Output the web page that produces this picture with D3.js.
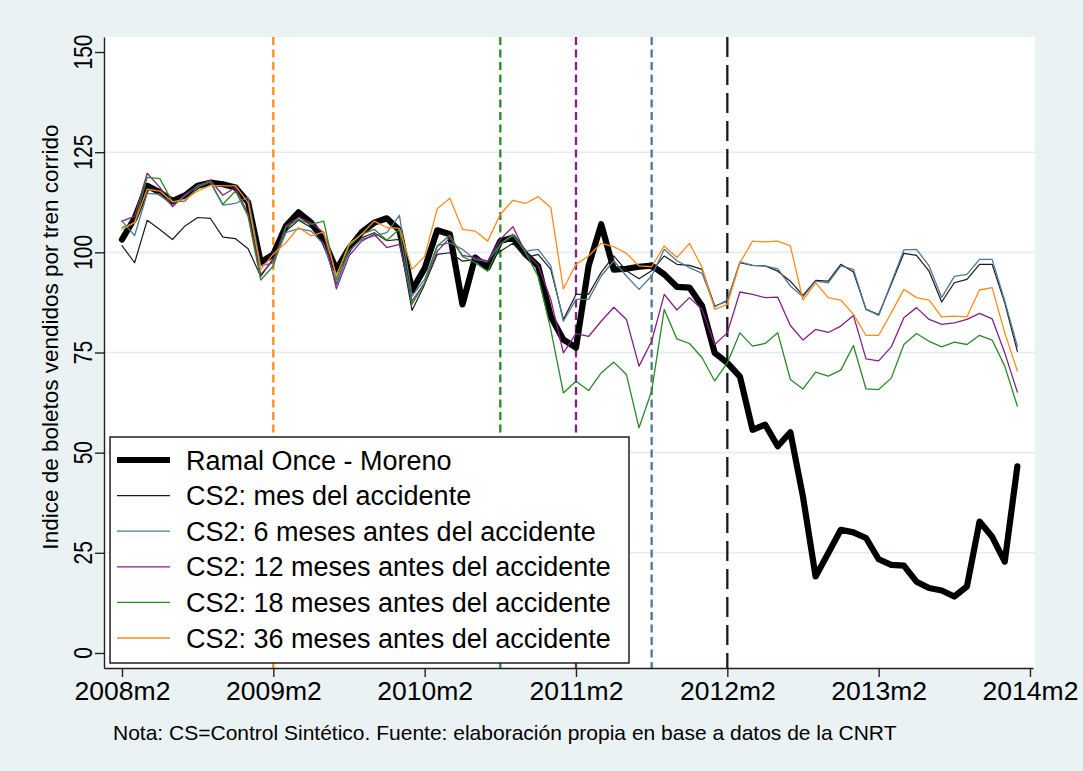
<!DOCTYPE html>
<html><head><meta charset="utf-8">
<script src="https://cdn.jsdelivr.net/npm/d3@7"></script>
<style>
body{margin:0;background:#EAF2F3;}
svg{display:block;font-family:"Liberation Sans",Arial,sans-serif;}
</style>
</head><body>
<svg id="chart" width="1083" height="771"></svg>
<script>
// ---- data ----
const monthIndex = [0,1,2,3,4,5,6,7,8,9,10,11,12,13,14,15,16,17,18,19,20,21,22,23,24,25,26,27,28,29,30,31,32,33,34,35,36,37,38,39,40,41,42,43,44,45,46,47,48,49,50,51,52,53,54,55,56,57,58,59,60,61,62,63,64,65,66,67,68,69,70,71]; // 2008m2 .. 2014m1
const xTickMonths = [0,12,24,36,48,60,72];
const xTickLabels = ["2008m2","2009m2","2010m2","2011m2","2012m2","2013m2","2014m2"];
const yTicks = [0,25,50,75,100,125,150];
const yGrid = [25,50,75,100,125];

const ramal = [103.2,108.5,116.6,115,112.8,114.2,116.6,117.4,117,116.2,112.5,97.5,
  99.5,106.6,110,107.4,103,95.7,101,105,107.4,108.5,105.5,90.5,
  96,105.5,104.5,87,98.7,96.2,102.8,103.7,99.5,96.6,84,78.2,
  76.2,96.6,107,95.7,95.9,96.4,96.7,94.5,91.4,91.2,86.6,74.9,
  72.4,69,55.7,57,51.6,55.1,39,19.1,24.9,30.75,30.1,28.7,
  23.4,22,21.8,17.8,16.2,15.6,14.1,16.6,32.8,29,22.8,46.6];
const cs2Mes = [101.7,97.4,108,105.7,103.2,106.6,108.7,108.5,103.8,103.4,100.9,94,
  98.5,105.3,108,106.2,102.4,92,100.3,103.6,104.9,102.9,103.25,85.5,
  92,99.5,99.9,97.8,98.2,97.4,100.3,102.25,98.7,99.5,95.75,83.25,
  89.5,89.5,95,99.1,95.4,93.4,95.4,99.1,97,96.75,95.75,86.6,
  87.8,97.4,96.75,96.6,95.3,92.8,89.25,93,92.8,97,95.1,85.75,
  84.5,92,99.75,99.25,95.3,87.6,92.4,93.25,97,97,87.4,75.3];
const cs2M6 = [107.8,104.2,114.7,114.5,111.6,114.1,116.7,117.6,111.8,112.2,113.7,96.6,
  97.4,104.9,105.9,105.3,102,92.4,100.3,103.25,104.1,104.9,109.25,89.1,
  93.25,101.6,102.4,100.75,98.2,97.8,102,104.25,100.3,100.75,96.6,82.8,
  88.25,88.25,94.1,97.9,94.1,90.75,94.1,100.75,97.9,96.2,94.75,86.4,
  88.1,97.6,96.75,96.6,95.9,91.6,88.9,92.8,92.4,96.6,95.75,85.75,
  84.25,92.4,100.6,100.75,96.6,88.7,94,94.5,98.25,98.25,87.9,76.5];
const cs2M12 = [107.8,109,119.75,116.2,111.4,114.5,116.4,118,114.25,116.2,109.5,94.5,
  98,106.6,108.7,107.4,104.9,90.9,99.1,102.8,104.5,101.2,102,87.8,
  92.4,100.3,103.6,99.25,98.7,97.8,103.25,106.4,99.9,96.75,88.25,74.9,
  79.7,79,82.8,86.3,83.25,71.6,77.8,89.5,85.6,88.7,85.75,77,
  79.9,90.1,89.5,88.7,88.8,81.75,78.1,80.75,80,81.6,84.25,73.4,
  72.9,76.4,83.7,86.2,83.25,82,82.4,83.25,84.75,83.4,74.9,65.1];
const cs2M18 = [106.2,107.4,118.7,118.4,112.6,112.8,116.2,117.6,112,115.3,109,93.1,
  96.6,106.2,108.25,107,107.8,93.25,101.6,104.5,105.75,103,105.75,87,
  92.4,101.6,104.25,99,97.4,95.3,102,104.5,99.9,94,80.75,64.9,
  67.8,65.5,69.9,72.6,69.5,56.2,65.4,85.75,78.4,77.25,73.7,67.9,
  72.4,79.9,76.6,77.25,79.9,68.25,65.9,70.1,69.1,70.6,76.75,65.9,
  65.75,68.6,77,79.75,77.8,76.4,77.6,77,79.3,78.1,71.6,61.6];
const cs2M36 = [105.7,107.4,115.75,115.3,112.6,113.2,115.3,116.7,116.6,116.6,112.4,95.7,
  99.6,102.4,106.2,104.1,105.1,94.25,102,104.5,107.8,106.2,106,95.75,
  99,110.9,113.5,105.75,105.3,102.8,109.5,113,112.2,113.9,111.2,90.9,
  97,99.1,102.25,101.4,99.75,96.6,96.4,101.6,98.7,102.25,96.2,85.75,
  87,97.4,102.8,102.6,102.8,101.6,88.1,92.4,88.7,88.1,84.5,79.25,
  79.25,84.9,90.75,88.7,88.1,83.9,84.1,83.9,90.6,91.2,79.9,70.4];

const seriesNames = ["Ramal Once - Moreno","CS2: mes del accidente","CS2: 6 meses antes del accidente",
  "CS2: 12 meses antes del accidente","CS2: 18 meses antes del accidente","CS2: 36 meses antes del accidente"];
const seriesValues = [ramal, cs2Mes, cs2M6, cs2M12, cs2M18, cs2M36];
const seriesColors = ["#000000","#1a1a1a","#4F7893","#851f85","#2a8a2a","#FF8C1A"];
const seriesWidths = [6.2,1.2,1.3,1.3,1.3,1.3];

// event lines: 36, 18, 12, 6 months before, and month of accident (2012m2)
const eventMonths = [12,30,36,42,48];
const eventColors = ["#FF8C1A","#2a8a2a","#851f85","#4F7893","#1a1a1a"];
const eventDash = ["8,4.5","8,4.5","8,4.5","8,4.5","20,8"];

const yTitle = "Indice de boletos vendidos por tren corrido";
const note = "Nota: CS=Control Sintético. Fuente: elaboración propia en base a datos de la CNRT";

// ---- drawing ----
const svg = d3.select("#chart");
const L = 104, R = 1035, T = 37, B = 668;
const x = d3.scaleLinear().domain([-1.427, 72.24]).range([L, 1033]);
const y = d3.scaleLinear().domain([-3.75, 153.75]).range([B, T]);

svg.append("rect").attr("width",1083).attr("height",771).attr("fill","#EAF2F3");
svg.append("rect").attr("x",L).attr("y",T).attr("width",R-L).attr("height",B-T).attr("fill","#fff");

svg.append("g").selectAll("line").data(yGrid).join("line")
  .attr("x1",L).attr("x2",R).attr("y1",d=>y(d)).attr("y2",d=>y(d))
  .attr("stroke","#E4ECEF").attr("stroke-width",1.6);

svg.append("g").selectAll("line").data(eventMonths).join("line")
  .attr("x1",d=>x(d)).attr("x2",d=>x(d)).attr("y1",T).attr("y2",B)
  .attr("stroke",(d,i)=>eventColors[i]).attr("stroke-width",2.3)
  .attr("stroke-dasharray",(d,i)=>eventDash[i]);

const line = d3.line().x((d,i)=>x(monthIndex[i])).y(d=>y(d));
svg.append("g").selectAll("path").data(seriesValues).join("path")
  .attr("d",d=>line(d)).attr("fill","none")
  .attr("stroke",(d,i)=>seriesColors[i]).attr("stroke-width",(d,i)=>seriesWidths[i])
  .attr("stroke-linejoin","round").attr("stroke-linecap","round");

// axes
const yAxis = svg.append("g").attr("transform",`translate(${L},0)`)
  .call(d3.axisLeft(y).tickValues(yTicks).tickSize(9).tickSizeOuter(0).tickFormat(""));
yAxis.select(".domain").attr("stroke","#222").attr("stroke-width",1.4);
yAxis.selectAll(".tick line").attr("stroke","#222").attr("stroke-width",1.4);
svg.append("g").selectAll("text").data(yTicks).join("text")
  .attr("transform",d=>`translate(92,${y(d)}) scale(1.2,1) rotate(-90)`)
  .attr("text-anchor","middle").attr("font-size",21).attr("fill","#000").text(d=>d);

const xAxis = svg.append("g").attr("transform",`translate(0,${B})`)
  .call(d3.axisBottom(x).tickValues(xTickMonths).tickSize(9).tickSizeOuter(0)
    .tickFormat((d,i)=>xTickLabels[i]));
xAxis.select(".domain").attr("stroke","#222").attr("stroke-width",1.4);
xAxis.selectAll(".tick line").attr("stroke","#222").attr("stroke-width",1.4);
xAxis.selectAll(".tick text").attr("font-size",26.5).attr("fill","#000")
  .attr("font-family","'Liberation Sans',Arial,sans-serif").attr("y",13);

svg.append("text").attr("transform","translate(58,337) rotate(-90)")
  .attr("text-anchor","middle").attr("font-size",22.5).text(yTitle);

// legend
const lg = svg.append("g");
lg.append("rect").attr("x",110).attr("y",437).attr("width",519).attr("height",226)
  .attr("fill","#fff").attr("stroke","#111").attr("stroke-width",1.4);
const rows = lg.selectAll("g").data(seriesNames).join("g")
  .attr("transform",(d,i)=>`translate(0,${460 + i*35.6})`);
rows.append("line").attr("x1",117).attr("x2",170)
  .attr("stroke",(d,i)=>seriesColors[i]).attr("stroke-width",(d,i)=>i===0?6:1.3);
rows.append("text").attr("x",186).attr("y",9.5).attr("font-size",27).text(d=>d);

svg.append("text").attr("x",113).attr("y",740).attr("font-size",21).text(note);
</script>
</body></html>
